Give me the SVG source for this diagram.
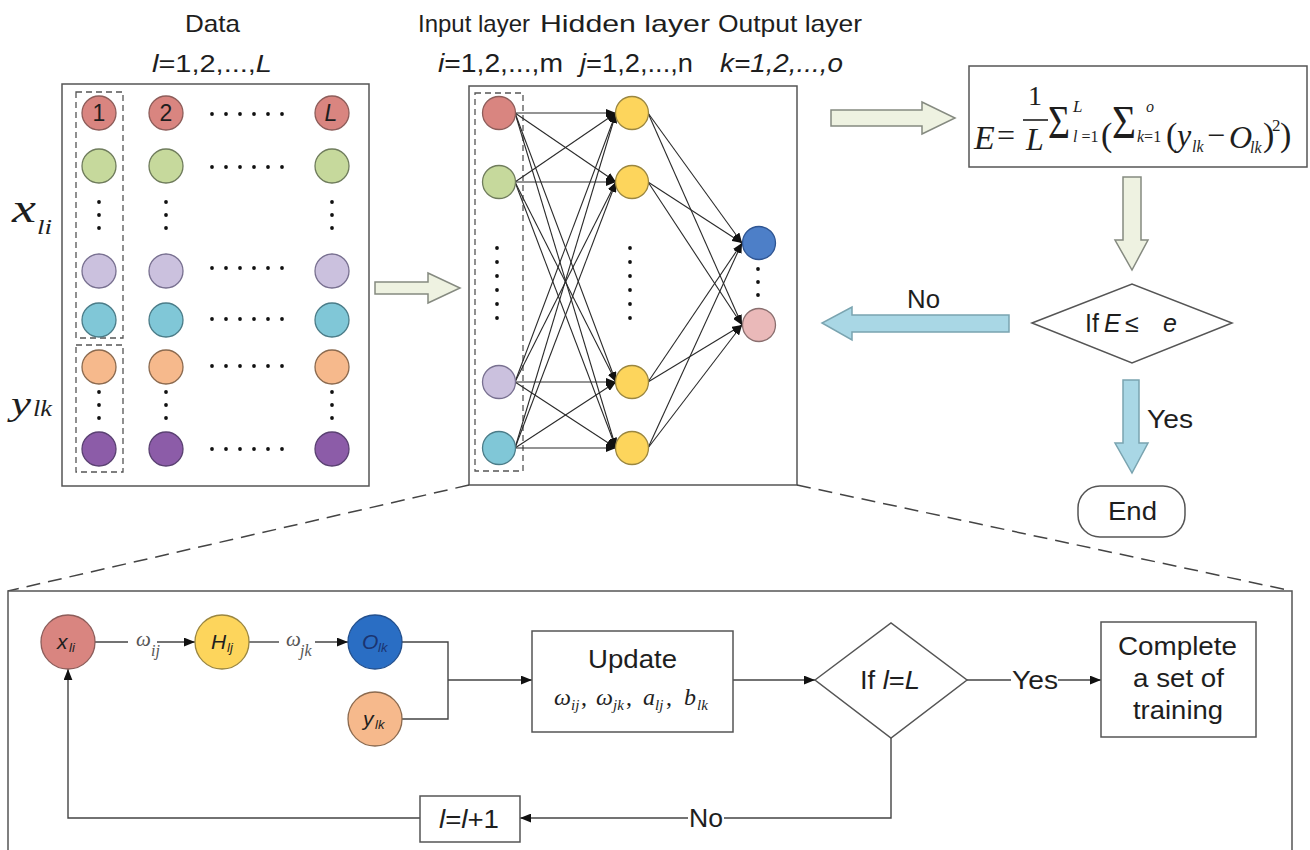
<svg xmlns="http://www.w3.org/2000/svg" width="1310" height="850" viewBox="0 0 1310 850">
  <defs>
    <style>
      .sans { font-family: "Liberation Sans", Arial, sans-serif; fill: #1e1e1e; }
      .serif { font-family: "Liberation Serif", "Times New Roman", serif; fill: #1e1e1e; }
      .it { font-style: italic; }
      .box { fill: #ffffff; stroke: #555555; stroke-width: 1.5; }
      .dash { fill: none; stroke: #555555; stroke-width: 1.3; stroke-dasharray: 6 4; }
      .dashlong { fill: none; stroke: #444444; stroke-width: 1.5; stroke-dasharray: 14 8; }
      .edge { fill: none; stroke: #2a2a2a; stroke-width: 1.1; marker-end: url(#tip); }
      .flow { fill: none; stroke: #444444; stroke-width: 1.4; }
      .flowa { fill: none; stroke: #444444; stroke-width: 1.4; marker-end: url(#tip2); }
      .dot { fill: #111111; }
      .red { fill: #d98580; stroke: #8d5d5a; stroke-width: 1.3; }
      .grn { fill: #c6d99c; stroke: #6f7c5c; stroke-width: 1.3; }
      .lpu { fill: #cbc1de; stroke: #787090; stroke-width: 1.3; }
      .tea { fill: #80c7d7; stroke: #4b7c88; stroke-width: 1.3; }
      .ora { fill: #f6b98c; stroke: #8b6a4f; stroke-width: 1.3; }
      .dpu { fill: #8c5ca8; stroke: #5a4172; stroke-width: 1.3; }
      .yel { fill: #fdd55c; stroke: #9a8640; stroke-width: 1.3; }
      .blu { fill: #4d7fc8; stroke: #2f5592; stroke-width: 1.3; }
      .pnk { fill: #eab9b9; stroke: #8a6f6f; stroke-width: 1.3; }
      .blu2 { fill: #2a6ec4; stroke: #23508e; stroke-width: 1.3; }
      .garrow { fill: #eef2e1; stroke: #858a80; stroke-width: 1.5; }
      .barrow { fill: #a9d7e5; stroke: #7aa4b0; stroke-width: 1.5; }
      .wl { fill: #555555; }
    </style>
    <marker id="tip" viewBox="0 0 10 8" markerWidth="10" markerHeight="8" refX="10" refY="4" orient="auto" markerUnits="userSpaceOnUse">
      <path d="M0,0 L10,4 L0,8 z" fill="#111"/>
    </marker>
    <marker id="tip2" viewBox="0 0 10 8" markerWidth="11" markerHeight="9" refX="10" refY="4" orient="auto" markerUnits="userSpaceOnUse">
      <path d="M0,0 L10,4 L0,8 z" fill="#111"/>
    </marker>
    <g id="hdots">
      <circle class="dot" cx="0" cy="0" r="1.9"/>
      <circle class="dot" cx="14" cy="0" r="1.9"/>
      <circle class="dot" cx="28" cy="0" r="1.9"/>
      <circle class="dot" cx="42" cy="0" r="1.9"/>
      <circle class="dot" cx="56" cy="0" r="1.9"/>
      <circle class="dot" cx="70" cy="0" r="1.9"/>
    </g>
    <g id="vdots3">
      <circle class="dot" cx="0" cy="0" r="1.9"/>
      <circle class="dot" cx="0" cy="13" r="1.9"/>
      <circle class="dot" cx="0" cy="26" r="1.9"/>
    </g>
    <g id="vdots6">
      <circle class="dot" cx="0" cy="0" r="1.9"/>
      <circle class="dot" cx="0" cy="14" r="1.9"/>
      <circle class="dot" cx="0" cy="28" r="1.9"/>
      <circle class="dot" cx="0" cy="42" r="1.9"/>
      <circle class="dot" cx="0" cy="56" r="1.9"/>
      <circle class="dot" cx="0" cy="70" r="1.9"/>
    </g>
  </defs>

  <rect width="1310" height="850" fill="#ffffff"/>

  <!-- headings -->
  <g id="headings">
    <text class="sans" x="185" y="32" font-size="24" textLength="55" lengthAdjust="spacingAndGlyphs">Data</text>
    <text class="sans" x="152" y="72" font-size="24" textLength="120" lengthAdjust="spacingAndGlyphs"><tspan class="it">l</tspan>=1,2,...,<tspan class="it">L</tspan></text>
    <text class="sans" x="418" y="32" font-size="24" textLength="112" lengthAdjust="spacingAndGlyphs">Input layer</text>
    <text class="sans" x="540" y="32" font-size="24" textLength="170" lengthAdjust="spacingAndGlyphs">Hidden layer</text>
    <text class="sans" x="718" y="32" font-size="24" textLength="144" lengthAdjust="spacingAndGlyphs">Output layer</text>
    <text class="sans" x="438" y="72" font-size="25" textLength="125" lengthAdjust="spacingAndGlyphs"><tspan class="it">i</tspan>=1,2,...,m</text>
    <text class="sans" x="580" y="72" font-size="25" textLength="113" lengthAdjust="spacingAndGlyphs"><tspan class="it">j</tspan>=1,2,...,n</text>
    <text class="sans it" x="720" y="72" font-size="25" textLength="123" lengthAdjust="spacingAndGlyphs">k=1,2,...,o</text>
  </g>

  <!-- data matrix -->
  <g id="data">
    <rect class="box" x="62" y="84" width="307" height="402"/>
    <rect class="dash" x="76" y="92" width="47" height="246"/>
    <rect class="dash" x="76" y="345" width="47" height="127"/>
    <text class="serif it" x="12" y="222" font-size="40" textLength="24" lengthAdjust="spacingAndGlyphs">x</text>
    <text class="serif it" x="37" y="234" font-size="22" textLength="15" lengthAdjust="spacingAndGlyphs">li</text>
    <text class="serif it" x="11" y="415" font-size="34" textLength="20" lengthAdjust="spacingAndGlyphs">y</text>
    <text class="serif it" x="33" y="416" font-size="24" textLength="19" lengthAdjust="spacingAndGlyphs">lk</text>

    <g id="row1">
      <circle class="red" cx="99" cy="113" r="17"/>
      <circle class="red" cx="166" cy="113" r="17"/>
      <circle class="red" cx="332" cy="113" r="17"/>
      <text class="sans" x="99" y="121" font-size="23" text-anchor="middle">1</text>
      <text class="sans" x="166" y="121" font-size="23" text-anchor="middle">2</text>
      <text class="sans it" x="331" y="121" font-size="23" text-anchor="middle">L</text>
      <use href="#hdots" x="212" y="114"/>
    </g>
    <g id="row2">
      <circle class="grn" cx="99" cy="166" r="17"/>
      <circle class="grn" cx="166" cy="166" r="17"/>
      <circle class="grn" cx="332" cy="166" r="17"/>
      <use href="#hdots" x="212" y="167"/>
    </g>
    <use href="#vdots3" x="99" y="202"/>
    <use href="#vdots3" x="166" y="202"/>
    <use href="#vdots3" x="332" y="202"/>
    <g id="row3">
      <circle class="lpu" cx="99" cy="271" r="17"/>
      <circle class="lpu" cx="166" cy="271" r="17"/>
      <circle class="lpu" cx="332" cy="271" r="17"/>
      <use href="#hdots" x="212" y="268"/>
    </g>
    <g id="row4">
      <circle class="tea" cx="99" cy="320" r="17"/>
      <circle class="tea" cx="166" cy="320" r="17"/>
      <circle class="tea" cx="332" cy="320" r="17"/>
      <use href="#hdots" x="212" y="319"/>
    </g>
    <g id="row5">
      <circle class="ora" cx="99" cy="367" r="17"/>
      <circle class="ora" cx="166" cy="367" r="17"/>
      <circle class="ora" cx="332" cy="367" r="17"/>
      <use href="#hdots" x="212" y="366"/>
    </g>
    <use href="#vdots3" x="99" y="392"/>
    <use href="#vdots3" x="166" y="392"/>
    <use href="#vdots3" x="332" y="392"/>
    <g id="row6">
      <circle class="dpu" cx="99" cy="449" r="17"/>
      <circle class="dpu" cx="166" cy="449" r="17"/>
      <circle class="dpu" cx="332" cy="449" r="17"/>
      <use href="#hdots" x="212" y="449"/>
    </g>
  </g>

  <!-- block arrows -->
  <g id="block-arrows">
    <path class="garrow" d="M375,282 H428 V273 L460,288 L428,303 V294 H375 Z"/>
    <path class="garrow" d="M831,110 H922 V102 L955,118 L922,134 V126 H831 Z"/>
    <path class="garrow" d="M1123,177 V240 H1115 L1132,270 L1148,240 H1141 V177 Z"/>
    <path class="barrow" d="M1009,315 V332 H852 V340 L822,323 L852,307 V315 Z"/>
    <path class="barrow" d="M1123,380 V443 H1115 L1132,473 L1148,443 H1139 V380 Z"/>
  </g>

  <!-- network -->
  <g id="network">
    <rect class="box" x="469" y="86" width="328" height="399"/>
    <rect class="dash" x="475" y="93" width="48" height="378"/>
    <g id="nn-edges">
      <path class="edge" d="M515,113 L616,113"/>
      <path class="edge" d="M515,113 L616,182"/>
      <path class="edge" d="M515,113 L616,382"/>
      <path class="edge" d="M515,113 L616,448"/>
      <path class="edge" d="M515,182 L616,113"/>
      <path class="edge" d="M515,182 L616,182"/>
      <path class="edge" d="M515,182 L616,382"/>
      <path class="edge" d="M515,182 L616,448"/>
      <path class="edge" d="M515,382 L616,113"/>
      <path class="edge" d="M515,382 L616,182"/>
      <path class="edge" d="M515,382 L616,382"/>
      <path class="edge" d="M515,382 L616,448"/>
      <path class="edge" d="M515,448 L616,113"/>
      <path class="edge" d="M515,448 L616,182"/>
      <path class="edge" d="M515,448 L616,382"/>
      <path class="edge" d="M515,448 L616,448"/>
      <path class="edge" d="M648,113 L742,243"/>
      <path class="edge" d="M648,113 L742,325"/>
      <path class="edge" d="M648,182 L742,243"/>
      <path class="edge" d="M648,182 L742,325"/>
      <path class="edge" d="M648,382 L742,243"/>
      <path class="edge" d="M648,382 L742,325"/>
      <path class="edge" d="M648,448 L742,243"/>
      <path class="edge" d="M648,448 L742,325"/>
    </g>
    <g id="input-nodes">
      <circle class="red" cx="499" cy="113" r="16.5"/>
      <circle class="grn" cx="499" cy="182" r="16.5"/>
      <use href="#vdots6" x="497" y="248"/>
      <circle class="lpu" cx="499" cy="382" r="16.5"/>
      <circle class="tea" cx="499" cy="448" r="16.5"/>
    </g>
    <g id="hidden-nodes">
      <circle class="yel" cx="632" cy="113" r="16.5"/>
      <circle class="yel" cx="632" cy="182" r="16.5"/>
      <use href="#vdots6" x="630" y="248"/>
      <circle class="yel" cx="632" cy="382" r="16.5"/>
      <circle class="yel" cx="632" cy="448" r="16.5"/>
    </g>
    <g id="output-nodes">
      <circle class="blu" cx="759" cy="243" r="16.5"/>
      <use href="#vdots3" x="758" y="269"/>
      <circle class="pnk" cx="759" cy="325" r="16.5"/>
    </g>
  </g>

  <!-- loss formula -->
  <g id="formula">
    <rect class="box" x="969" y="66" width="338" height="101"/>
    <text class="serif it" x="974" y="149" font-size="34">E</text>
    <text class="serif" x="997" y="146" font-size="32">=</text>
    <text class="serif" x="1035" y="105" font-size="28" text-anchor="middle">1</text>
    <line x1="1023" y1="120" x2="1048" y2="120" stroke="#1e1e1e" stroke-width="1.6"/>
    <text class="serif it" x="1035" y="150" font-size="32" text-anchor="middle">L</text>
    <text class="serif" x="1048" y="138" font-size="46" textLength="22" lengthAdjust="spacingAndGlyphs">Σ</text>
    <text class="serif it" x="1073" y="112" font-size="17">L</text>
    <text class="serif" x="1073" y="142" font-size="16"><tspan class="it">l</tspan> =1</text>
    <text class="serif" x="1101" y="146" font-size="34">(</text>
    <text class="serif" x="1112" y="138" font-size="46" textLength="24" lengthAdjust="spacingAndGlyphs">Σ</text>
    <text class="serif it" x="1146" y="112" font-size="16">o</text>
    <text class="serif" x="1137" y="142" font-size="16"><tspan class="it">k</tspan>=1</text>
    <text class="serif" x="1166" y="146" font-size="34">(</text>
    <text class="serif it" x="1177" y="146" font-size="32">y</text>
    <text class="serif it" x="1192" y="152" font-size="16">lk</text>
    <text class="serif" x="1207" y="146" font-size="32">−</text>
    <text class="serif it" x="1229" y="148" font-size="32">O</text>
    <text class="serif it" x="1250" y="153" font-size="16">lk</text>
    <text class="serif" x="1263" y="146" font-size="34">)</text>
    <text class="serif" x="1272" y="131" font-size="17">2</text>
    <text class="serif" x="1280" y="146" font-size="34">)</text>
  </g>

  <!-- convergence check -->
  <g id="check">
    <polygon class="box" points="1032,323 1132,284 1232,323 1132,363"/>
    <text class="sans" x="1085" y="332" font-size="25">If</text>
    <text class="sans it" x="1104" y="332" font-size="25">E</text>
    <text class="sans" x="1125" y="332" font-size="25">≤</text>
    <text class="sans it" x="1163" y="332" font-size="25">e</text>
  </g>
  <g id="labels">
    <text class="sans" x="907" y="308" font-size="25" textLength="33" lengthAdjust="spacingAndGlyphs">No</text>
    <text class="sans" x="1147" y="428" font-size="25" textLength="46" lengthAdjust="spacingAndGlyphs">Yes</text>
  </g>
  <g id="end">
    <rect class="box" x="1078" y="486" width="107" height="51" rx="22"/>
    <text class="sans" x="1108" y="520" font-size="25" textLength="49" lengthAdjust="spacingAndGlyphs">End</text>
  </g>

  <!-- zoom-out guides -->
  <g id="guides">
    <line class="dashlong" x1="469" y1="485" x2="8" y2="591"/>
    <line class="dashlong" x1="797" y1="485" x2="1292" y2="591"/>
  </g>

  <!-- per-sample training loop -->
  <g id="loop">
    <rect class="box" x="8" y="591" width="1284" height="280"/>

    <g id="connectors">
      <path class="flow" d="M95,642 H128"/>
      <path class="flowa" d="M157,642 H195"/>
      <path class="flow" d="M249,642 H279"/>
      <path class="flowa" d="M315,642 H348"/>
      <path class="flow" d="M402,642 H448 V719 H402"/>
      <path class="flowa" d="M448,680 H532"/>
      <path class="flowa" d="M733,680 H815"/>
      <path class="flow" d="M967,680 H1011"/>
      <path class="flowa" d="M1058,680 H1101"/>
      <path class="flow" d="M891,738 V818 H724"/>
      <path class="flowa" d="M688,818 H520"/>
      <path class="flowa" d="M420,818 H68 V669"/>
    </g>

    <g id="w-ij">
      <text class="serif it wl" x="136" y="646" font-size="21">ω</text>
      <text class="serif it wl" x="151" y="656" font-size="16">ij</text>
    </g>
    <g id="w-jk">
      <text class="serif it wl" x="286" y="646" font-size="21">ω</text>
      <text class="serif it wl" x="300" y="656" font-size="16">jk</text>
    </g>

    <g id="node-x">
      <circle class="red" cx="68" cy="642" r="27"/>
      <text class="sans it" x="57" y="649" font-size="21">x</text>
      <text class="sans it" x="69" y="652" font-size="13">li</text>
    </g>
    <g id="node-h">
      <circle class="yel" cx="222" cy="642" r="27"/>
      <text class="sans it" x="211" y="649" font-size="21">H</text>
      <text class="sans it" x="227" y="652" font-size="13">lj</text>
    </g>
    <g id="node-o">
      <circle class="blu2" cx="375" cy="642" r="27"/>
      <text class="sans it" x="362" y="649" font-size="21" style="fill:#1b3470">O</text>
      <text class="sans it" x="378" y="652" font-size="13" style="fill:#1b3470">lk</text>
    </g>
    <g id="node-y">
      <circle class="ora" cx="375" cy="719" r="27"/>
      <text class="sans it" x="363" y="726" font-size="21">y</text>
      <text class="sans it" x="375" y="729" font-size="13">lk</text>
    </g>

    <g id="update">
      <rect class="box" x="532" y="631" width="201" height="101"/>
      <text class="sans" x="588" y="668" font-size="25" textLength="89" lengthAdjust="spacingAndGlyphs">Update</text>
      <text class="serif it" x="554" y="705" font-size="24">ω</text>
      <text class="serif it" x="571" y="710" font-size="15">ij</text>
      <text class="serif" x="581" y="705" font-size="24">,</text>
      <text class="serif it" x="596" y="705" font-size="24">ω</text>
      <text class="serif it" x="613" y="710" font-size="15">jk</text>
      <text class="serif" x="626" y="705" font-size="24">,</text>
      <text class="serif it" x="643" y="705" font-size="24">a</text>
      <text class="serif it" x="655" y="710" font-size="15">lj</text>
      <text class="serif" x="666" y="705" font-size="24">,</text>
      <text class="serif it" x="684" y="705" font-size="24">b</text>
      <text class="serif it" x="697" y="710" font-size="15">lk</text>
    </g>

    <g id="if-last">
      <polygon class="box" points="815,680 891,623 967,680 891,738"/>
      <text class="sans" x="860" y="689" font-size="25" textLength="60" lengthAdjust="spacingAndGlyphs">If <tspan class="it">l</tspan>=<tspan class="it">L</tspan></text>
    </g>
    <text class="sans" x="1012" y="689" font-size="25" textLength="46" lengthAdjust="spacingAndGlyphs">Yes</text>
    <text class="sans" x="689" y="827" font-size="25" textLength="34" lengthAdjust="spacingAndGlyphs">No</text>

    <g id="complete">
      <rect class="box" x="1101" y="622" width="155" height="115"/>
      <text class="sans" x="1118" y="655" font-size="25" textLength="119" lengthAdjust="spacingAndGlyphs">Complete</text>
      <text class="sans" x="1133" y="687" font-size="25" textLength="91" lengthAdjust="spacingAndGlyphs">a set of</text>
      <text class="sans" x="1133" y="719" font-size="25" textLength="90" lengthAdjust="spacingAndGlyphs">training</text>
    </g>

    <g id="increment">
      <rect class="box" x="420" y="796" width="100" height="46"/>
      <text class="sans" x="439" y="828" font-size="25" textLength="60" lengthAdjust="spacingAndGlyphs"><tspan class="it">l</tspan>=<tspan class="it">l</tspan>+1</text>
    </g>
  </g>
</svg>
